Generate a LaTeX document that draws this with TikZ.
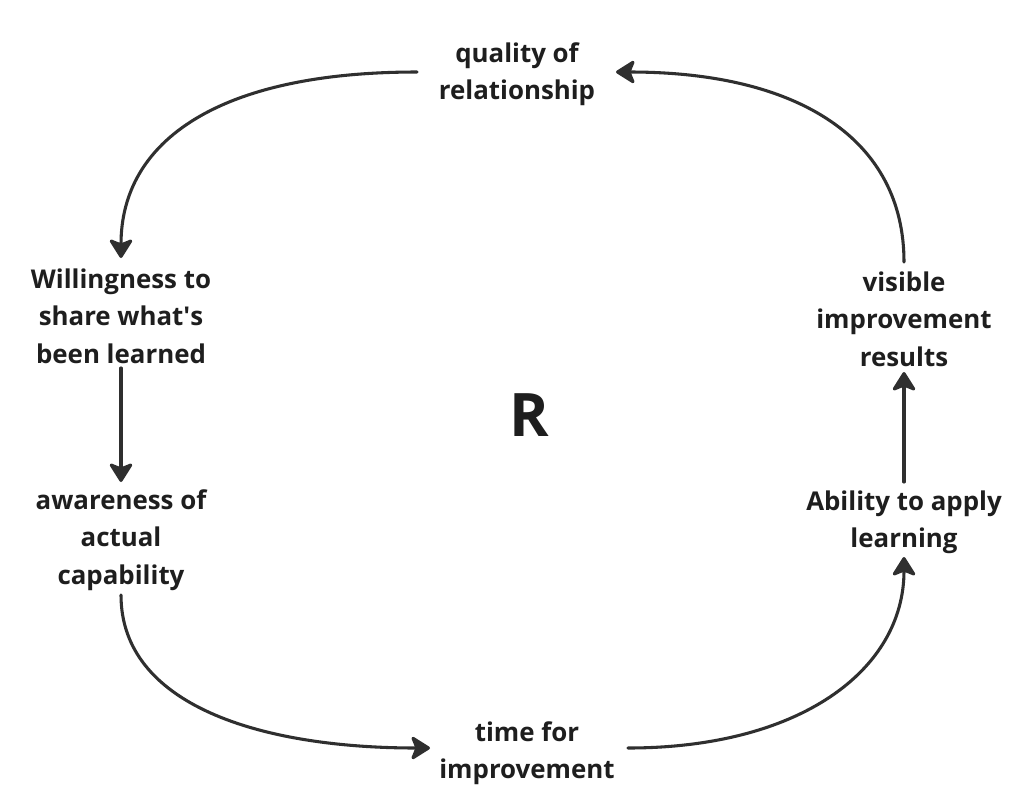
\documentclass[tikz,border=0pt]{standalone}
\usepackage{fontspec}
\setmainfont{Open Sans}
\usetikzlibrary{arrows.meta,calc}
\definecolor{txt}{HTML}{1E1E1E}
\definecolor{ln}{HTML}{2F2F2F}
\begin{document}
\begin{tikzpicture}[x=0.75pt,y=-0.75pt,
  lbl/.style={align=center,text=txt,inner sep=0pt,font=\fontsize{19.4}{28}\selectfont\bfseries},
  arr/.style={draw=ln,line width=2.3pt,line cap=round,-{Stealth[length=16pt,width=20pt,inset=4pt,round]}}]
\path[use as bounding box,fill=white] (0,0) rectangle (1036,808);
\node[lbl] (q) at (517,74) {quality of\\relationship};
\node[lbl] (w) at (121,316) {Willingness to\\share what\textquotesingle s\\been learned};
\node[lbl] (a) at (121,540) {awareness of\\actual\\capability};
\node[lbl] (t) at (527,753) {time for\\improvement};
\node[lbl] (b) at (904,522) {Ability to apply\\learning};
\node[lbl] (v) at (904,319) {visible\\improvement\\results};
\node[text=txt,font=\fontsize{45}{50}\selectfont\bfseries] (r) at (529,415) {R};
\draw[arr] ($(q)+(-100,-2)$) .. controls (220,72) and (121,140) .. ($(w)+(0,-58)$);
\draw[arr] ($(w)+(0,52)$) -- ($(a)+(0,-58)$);
\draw[arr] ($(a)+(0,55)$) .. controls (121,705) and (260,748) .. ($(t)+(-97,-5)$);
\draw[arr] ($(t)+(101,-5)$) .. controls (800,748) and (904,670) .. ($(b)+(0,35)$);
\draw[arr] ($(b)+(0,-40)$) -- ($(v)+(0,53)$);
\draw[arr] ($(v)+(0,-57)$) .. controls (904,140) and (800,72) .. ($(q)+(99,-2)$);
\end{tikzpicture}
\end{document}
